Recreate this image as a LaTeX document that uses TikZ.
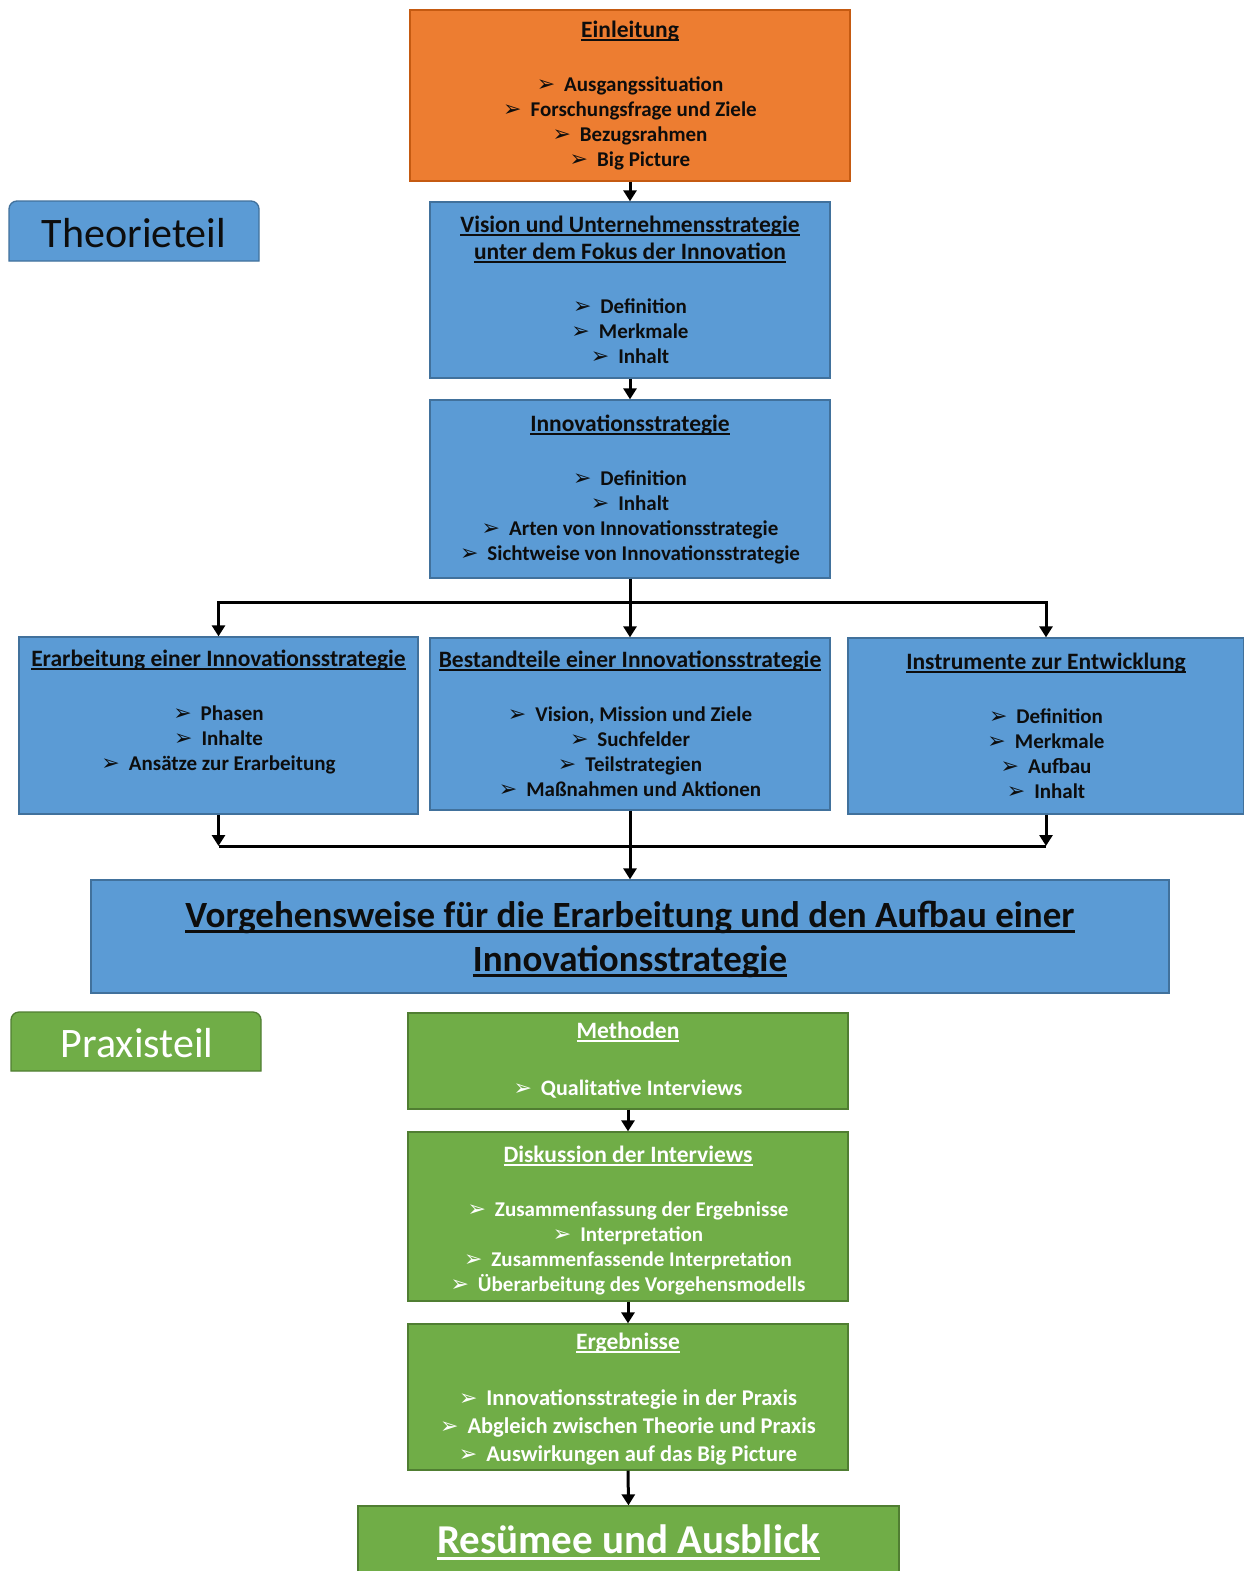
\documentclass[tikz,border=0pt]{standalone}
\usepackage{fontspec}
\setmainfont{Carlito}
\newfontfamily\symf{DejaVu Sans}
\usetikzlibrary{arrows.meta}

\definecolor{orfill}{HTML}{ED7D31}
\definecolor{ordraw}{HTML}{C55A11}
\definecolor{blfill}{HTML}{5B9BD5}
\definecolor{bldraw}{HTML}{41719C}
\definecolor{grfill}{HTML}{70AD47}
\definecolor{grdraw}{HTML}{507E32}
\definecolor{ink}{HTML}{0D0D0D}

% underline sitting just below the baseline
\newcommand\ulin[1]{\setbox0\hbox{#1}\rlap{\rule[-0.16em]{\wd0}{0.07em}}\box0}
% underlined box heading, a little larger than the items
\newcommand\hd[1]{{\fontsize{23.5}{25}\selectfont\ulin{#1}}}
% arrowhead bullet
\newcommand\bul{{\symf\fontsize{22}{22}\selectfont ➢}\hspace{9pt}}

% text nodes are placed by the baseline of their last line
\tikzset{
  x=1pt, y=-1pt,
  box/.style={draw, line width=1.3pt, inner sep=0pt},
  orbox/.style={box, fill=orfill, draw=ordraw},
  blbox/.style={box, fill=blfill, draw=bldraw},
  grbox/.style={box, fill=grfill, draw=grdraw},
  txt/.style={anchor=base, align=center, inner sep=0pt, font=\bfseries\fontsize{21}{25}\selectfont},
  dtxt/.style={txt, text=ink},
  wtxt/.style={txt, text=white},
  arr/.style={line width=3pt, -{Triangle[width=13pt,length=11pt]}},
  plain/.style={line width=3pt},
}

\begin{document}
\begin{tikzpicture}
\clip (0,0) rectangle (1244,1571);
\fill[white] (0,0) rectangle (1244,1571);

% ---------- section tabs ----------
\filldraw[fill=blfill, draw=bldraw, line width=1.3pt]
  (9,261) [rounded corners=8pt] -- (9,201) -- (259,201) [sharp corners] -- (259,261) -- cycle;
\node[inner sep=0pt, text=ink, font=\fontsize{42}{42}\selectfont] (theo) at (134,233) {Theorieteil};

\filldraw[fill=grfill, draw=grdraw, line width=1.3pt]
  (11,1071) [rounded corners=8pt] -- (11,1012) -- (261,1012) [sharp corners] -- (261,1071) -- cycle;
\node[inner sep=0pt, text=white, font=\fontsize{42}{42}\selectfont] (prax) at (137,1043) {Praxisteil};

% ---------- theory boxes ----------
\node[orbox, minimum width=440, minimum height=171] (ein) at (630,95.5) {};
\node[dtxt] (ein-t) at (630,166) {\hd{Einleitung}\\[29pt]
  \bul Ausgangssituation\\
  \bul Forschungsfrage und Ziele\\
  \bul Bezugsrahmen\\
  \bul Big Picture};

\node[blbox, minimum width=400, minimum height=176] (vis) at (630,290) {};
\node[dtxt] (vis-t) at (630,363) {\hd{Vision und Unternehmensstrategie}\\[2pt]
  \hd{unter dem Fokus der Innovation}\\[29pt]
  \bul Definition\\
  \bul Merkmale\\
  \bul Inhalt};

\node[blbox, minimum width=400, minimum height=178] (inn) at (630,489) {};
\node[dtxt] (inn-t) at (630,560) {\hd{Innovationsstrategie}\\[29pt]
  \bul Definition\\
  \bul Inhalt\\
  \bul Arten von Innovationsstrategie\\
  \bul Sichtweise von Innovationsstrategie};

\node[blbox, minimum width=399, minimum height=177] (erb) at (218.5,725.5) {};
\node[dtxt] (erb-t) at (218.5,770) {\hd{Erarbeitung einer Innovationsstrategie}\\[29pt]
  \bul Phasen\\
  \bul Inhalte\\
  \bul Ansätze zur Erarbeitung};

\node[blbox, minimum width=400, minimum height=172] (bes) at (630,724) {};
\node[dtxt] (bes-t) at (630,796) {\hd{Bestandteile einer Innovationsstrategie}\\[29pt]
  \bul Vision, Mission und Ziele\\
  \bul Suchfelder\\
  \bul Teilstrategien\\
  \bul Maßnahmen und Aktionen};

\node[blbox, minimum width=396, minimum height=176] (ins) at (1046,726) {};
\node[dtxt] (ins-t) at (1046,798) {\hd{Instrumente zur Entwicklung}\\[29pt]
  \bul Definition\\
  \bul Merkmale\\
  \bul Aufbau\\
  \bul Inhalt};

\node[blbox, minimum width=1078, minimum height=113] (vor) at (630,936.5) {};
\node[dtxt, font=\bfseries\fontsize{37}{44}\selectfont] (vor-t) at (630,971)
  {\ulin{Vorgehensweise für die Erarbeitung und den Aufbau einer}\\
   \ulin{Innovationsstrategie}};

% ---------- practice boxes ----------
\node[grbox, minimum width=440, minimum height=96] (met) at (628,1061) {};
\node[wtxt, font=\bfseries\fontsize{22}{25}\selectfont] (met-t) at (628,1095) {\hd{Methoden}\\[32pt]
  \bul Qualitative Interviews};

\node[grbox, minimum width=440, minimum height=169] (dis) at (628,1216.5) {};
\node[wtxt] (dis-t) at (628,1291) {\hd{Diskussion der Interviews}\\[29pt]
  \bul Zusammenfassung der Ergebnisse\\
  \bul Interpretation\\
  \bul Zusammenfassende Interpretation\\
  \bul Überarbeitung des Vorgehensmodells};

\node[grbox, minimum width=440, minimum height=146] (erg) at (628,1397) {};
\node[wtxt, font=\bfseries\fontsize{22.5}{28}\selectfont] (erg-t) at (628,1461) {\hd{Ergebnisse}\\[28pt]
  \bul Innovationsstrategie in der Praxis\\
  \bul Abgleich zwischen Theorie und Praxis\\
  \bul Auswirkungen auf das Big Picture};

\node[grbox, minimum width=541, minimum height=90] (res) at (628.5,1551) {};
\node[wtxt, font=\bfseries\fontsize{41}{44}\selectfont] (res-t) at (628.5,1553) {\ulin{Resümee und Ausblick}};

% ---------- connectors ----------
\draw[arr] (ein.south) -- (vis.north);
\draw[arr] (vis.south) -- (inn.north);

\coordinate (split) at (630,602);
\draw[arr] (inn.south) -- (split) -| (erb.north);
\draw[arr] (split) -| (ins.north);
\draw[arr] (split) -- (bes.north);

\coordinate (merge) at (630,846);
\draw[plain] (erb.south |- merge) -- (ins.south |- merge);
\draw[arr] (erb.south) -- (erb.south |- merge);
\draw[arr] (ins.south) -- (ins.south |- merge);
\draw[arr] (bes.south) -- (vor.north);

\draw[arr] (met.south) -- (dis.north);
\draw[arr] (dis.south) -- (erg.north);
\draw[arr] (erg.south) -- (res.north);
\end{tikzpicture}
\end{document}
